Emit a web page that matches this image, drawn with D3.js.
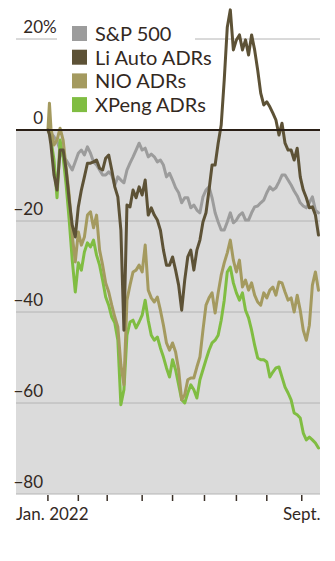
<!DOCTYPE html>
<html>
<head>
<meta charset="utf-8">
<script src="https://cdn.jsdelivr.net/npm/d3@7"></script>
<style>
  html, body { margin: 0; padding: 0; background: #fff; }
  svg { display: block; }
  text { font-family: Lato, "Noto Sans", sans-serif; fill: #33291f; }
</style>
</head>
<body>
<svg id="chart" width="335" height="561"></svg>
<script>
// ---- data (trading-day index from Jan. 3, 2022; % change) ----
const days = [0, 1].concat(d3.range(2, 180, 2));

const seriesNames = ["S&P 500", "Li Auto ADRs", "NIO ADRs", "XPeng ADRs"];
const seriesColors = ["#9c9c9c", "#5d5236", "#a49a5f", "#80bd42"];

const sp500 = [0, -0.3, -0.7, -1.5, -2.4, -4.4, -5.9, -6.6, -7.7, -8.8, -7.0,
  -5.1, -4.4, -5.5, -3.7, -5.1, -7.0, -7.7, -8.8, -9.9, -9.9,
  -9.2, -9.9, -12.1, -10.3, -11.0, -11.6, -8.8, -7.3, -5.9, -4.4,
  -2.9, -4.4, -4.0, -5.9, -5.3, -5.9, -7.0, -6.6, -7.7, -10.3,
  -9.5, -11.0, -12.7, -13.8, -16.0, -14.9, -14.9, -17.1, -16.5, -17.6,
  -18.2, -14.7, -13.2, -12.5, -14.9, -18.2, -20.2, -22.0, -22.0, -20.2,
  -18.2, -20.4, -19.8, -18.7, -18.2, -19.8, -19.8, -18.2, -16.9, -16.7,
  -16.0, -15.4, -13.8, -12.5, -13.2, -12.7, -11.4, -9.9, -9.9, -11.0,
  -12.1, -13.4, -14.5, -16.0, -16.7, -17.1, -16.0, -14.7, -17.6, -18.2];

const liAuto = [0, -1.0, -3.3, -9.9, -13.2, -4.4, -4.4, -8.8, -15.4, -20.9, -23.5,
  -16.9, -13.2, -10.3, -7.3, -7.3, -7.0, -6.6, -8.4, -8.8, -6.2,
  -5.5, -8.8, -12.5, -14.7, -22.0, -44.0, -16.5, -16.9, -13.2, -14.9,
  -12.5, -14.3, -11.0, -18.7, -17.1, -18.7, -19.8, -22.0, -26.4, -29.7,
  -29.7, -27.9, -30.8, -34.1, -39.6, -33.0, -27.9, -26.4, -30.8, -26.4,
  -24.2, -20.2, -18.2, -13.2, -7.7, -7.7, -2.9, 1.1, 11.0, 22.6,
  26.4, 17.6, 19.8, 20.9, 17.6, 19.8, 16.5, 20.9, 17.6, 13.2,
  8.1, 5.5, 6.2, 5.1, 3.7, 2.2, -1.1, 1.5, -2.9, -4.4,
  -4.4, -6.6, -4.0, -10.3, -13.2, -14.9, -17.1, -16.9, -18.7, -23.1];

const nio = [0, 5.9, 0.4, -3.3, -2.2, 0.4, -2.2, -8.4, -14.3, -23.1, -29.0,
  -22.4, -25.3, -23.5, -18.7, -18.0, -21.5, -18.7, -26.4, -29.7, -33.6,
  -35.6, -38.5, -41.1, -43.3, -51.6, -56.0, -37.4, -34.1, -31.2, -30.8,
  -29.7, -31.2, -25.3, -35.2, -36.9, -37.8, -36.7, -39.6, -42.9, -46.8,
  -48.4, -46.8, -48.8, -52.7, -59.3, -58.2, -54.9, -54.5, -54.5, -52.1,
  -49.9, -44.0, -38.5, -36.9, -35.8, -40.2, -35.8, -31.9, -29.2, -27.0,
  -24.2, -28.6, -31.2, -28.6, -34.5, -33.0, -35.2, -33.6, -36.3, -37.8,
  -38.5, -35.8, -36.9, -35.2, -34.5, -36.3, -33.4, -33.6, -35.6, -37.4,
  -36.9, -40.0, -36.3, -39.6, -44.0, -46.2, -42.9, -34.1, -31.2, -35.2];

const xpeng = [0, -0.5, -2.2, -6.6, -14.9, -2.2, -5.9, -12.1, -19.8, -28.6, -35.6,
  -29.2, -30.8, -26.8, -24.8, -25.7, -24.2, -27.5, -29.7, -33.0, -36.7,
  -38.5, -41.1, -42.4, -46.2, -60.4, -57.1, -45.1, -42.2, -41.8, -43.5,
  -42.2, -40.7, -37.4, -41.8, -45.1, -46.2, -45.5, -47.9, -49.9, -52.3,
  -54.3, -50.5, -52.7, -56.0, -59.3, -60.0, -57.8, -56.0, -57.1, -58.9,
  -54.9, -52.7, -50.5, -48.4, -46.8, -46.2, -45.1, -41.8, -37.4, -31.2,
  -30.1, -33.6, -35.8, -37.4, -35.8, -39.6, -41.3, -44.0, -47.3, -50.1,
  -50.5, -50.5, -51.0, -54.3, -53.2, -52.3, -52.1, -54.3, -56.5, -57.8,
  -59.3, -62.2, -62.6, -63.3, -66.6, -68.1, -67.5, -68.1, -68.8, -69.9];

const yTicks = [20, 0, -20, -40, -60, -80];
const monthTickDays = [0, 20, 39, 62, 82, 103, 124, 144, 167];
const xLabels = [{ day: 0, text: "Jan. 2022", anchor: "start" }, { day: 167, text: "Sept.", anchor: "middle" }];

// ---- layout ----
const svg = d3.select("#chart");
const plotLeft = 16, plotRight = 320, plotTop = 39, plotBottom = 494;

const x = d3.scaleLinear().domain([-21, 179]).range([plotLeft, plotRight]);
const y = d3.scaleLinear().domain([-80, 20]).range([plotBottom, plotTop]);

// gray panel below zero
svg.append("rect")
  .attr("x", plotLeft).attr("y", y(0))
  .attr("width", plotRight - plotLeft).attr("height", y(-80) - y(0))
  .attr("fill", "#dbdbdb");

// gridlines
svg.append("g").selectAll("line")
  .data(yTicks.filter(d => d !== 0))
  .join("line")
  .attr("x1", plotLeft).attr("x2", plotRight)
  .attr("y1", d => y(d)).attr("y2", d => y(d))
  .attr("stroke", "#b4b4b4").attr("stroke-width", 1);

// y labels
const yl = svg.append("g");
yTicks.forEach(t => {
  const label = t < 0 ? "\u2212" + Math.abs(t) : String(t);
  yl.append("text")
    .attr("x", 43).attr("y", y(t) - 6)
    .attr("text-anchor", "end")
    .attr("font-size", 17)
    .text(label);
  if (t === yTicks[0]) {
    yl.append("text")
      .attr("x", 43).attr("y", y(t) - 6)
      .attr("text-anchor", "start")
      .attr("font-size", 17)
      .text("%");
  }
});

// legend background (covers gridline)
svg.append("rect")
  .attr("x", 57).attr("y", 14).attr("width", 138).attr("height", 104)
  .attr("fill", "#fff");

// x axis ticks
svg.append("g").selectAll("line")
  .data(monthTickDays)
  .join("line")
  .attr("x1", d => x(d)).attr("x2", d => x(d))
  .attr("y1", plotBottom + 1).attr("y2", plotBottom + 7)
  .attr("stroke", "#3a3028").attr("stroke-width", 1.5);

svg.append("g").selectAll("text")
  .data(xLabels)
  .join("text")
  .attr("x", d => d.anchor === "start" ? plotLeft : x(d.day))
  .attr("y", 520)
  .attr("text-anchor", d => d.anchor)
  .attr("font-size", 17)
  .text(d => d.text);

// lines
const allSeries = [sp500, liAuto, nio, xpeng];
const line = d3.line()
  .x((d, i) => x(days[i]))
  .y(d => y(d));

const drawOrder = [0, 3, 2, 1];
drawOrder.forEach(k => {
  const vals = allSeries[k].slice(0, days.length);
  svg.append("path")
    .datum(vals)
    .attr("d", line)
    .attr("fill", "none")
    .attr("stroke", seriesColors[k])
    .attr("stroke-width", 3)
    .attr("stroke-linejoin", "round")
    .attr("stroke-linecap", "round");
});

// zero line
svg.append("line")
  .attr("x1", plotLeft).attr("x2", plotRight)
  .attr("y1", y(0)).attr("y2", y(0))
  .attr("stroke", "#2a1f16").attr("stroke-width", 2);

// legend
const lg = svg.append("g");
seriesNames.forEach((name, i) => {
  const ty = 26 + i * 23.7;
  lg.append("rect")
    .attr("x", 72).attr("y", ty).attr("width", 15).attr("height", 15)
    .attr("fill", seriesColors[i]);
  lg.append("text")
    .attr("x", 95).attr("y", ty + 15)
    .attr("font-size", 20)
    .text(name);
});
</script>
</body>
</html>
